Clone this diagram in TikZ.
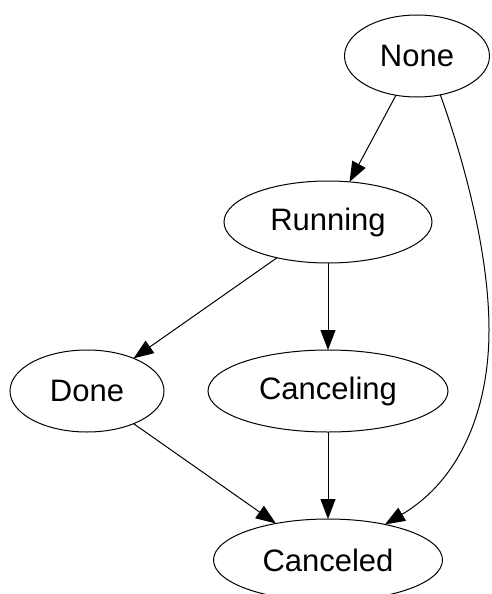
\documentclass[tikz,border=0pt]{standalone}
\usepackage{fontspec}
\setmainfont{Liberation Sans}
\usetikzlibrary{shapes.geometric, arrows.meta}

\begin{document}
\begin{tikzpicture}[x=1pt, y=-1pt,
    state/.style={ellipse, draw, line width=1pt, inner sep=0pt, outer sep=0pt, minimum height=82pt, font=\fontsize{31}{37}\selectfont},
    trans/.style={-{Triangle[length=20pt, width=15pt]}, line width=1pt}]
    \useasboundingbox (0,0) rectangle (491,594);

    % States
    \node[state, minimum width=145pt] (none) at (417,56) {None};
    \node[state, minimum width=208pt] (running) at (328,222) {Running};
    \node[state, minimum width=154pt] (done) at (87,391) {Done};
    \node[state, minimum width=240pt] (canceling) at (328,391) {Canceling};
    \node[state, minimum width=229pt] (canceled) at (328,560) {Canceled};

    % Transitions
    \draw[trans] (none) -- (running);
    \draw[trans] (running) -- (done);
    \draw[trans] (running) -- (canceling);
    \draw[trans] (done) -- (canceled);
    \draw[trans] (canceling) -- (canceled);
    \draw[trans] (none.-59) .. controls (462,155) and (489,250) .. (489,330)
        .. controls (489,410) and (460,480) .. (canceled.32);
\end{tikzpicture}
\end{document}
